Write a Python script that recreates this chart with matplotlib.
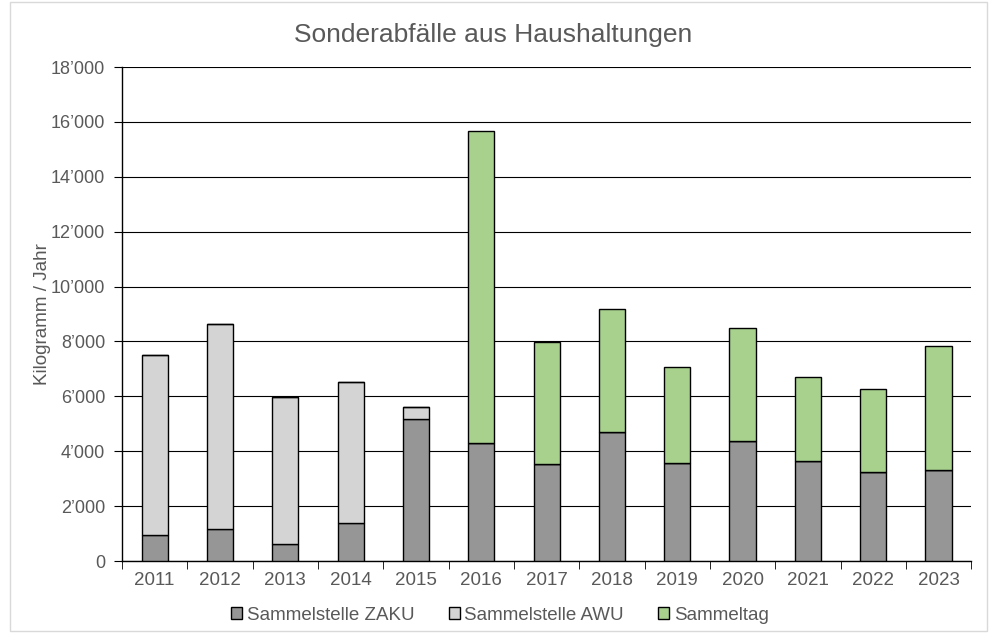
import numpy as np
import matplotlib.pyplot as plt
from matplotlib.ticker import FuncFormatter, MultipleLocator, FixedLocator
from matplotlib.patches import Rectangle

plt.rcParams['font.family'] = ['Liberation Sans', 'DejaVu Sans']

# Data (kg per year)
years = ['2011', '2012', '2013', '2014', '2015', '2016', '2017',
         '2018', '2019', '2020', '2021', '2022', '2023']
zaku = [950, 1170, 620, 1380, 5170, 4300, 3540, 4700, 3570, 4370, 3640, 3240, 3320]
awu = [6550, 7460, 5360, 5140, 440, 0, 0, 0, 0, 0, 0, 0, 0]
sammeltag = [0, 0, 0, 0, 0, 11370, 4440, 4480, 3500, 4120, 3060, 3030, 4510]

text_col = '#595959'
x = np.arange(len(years))
zaku = np.array(zaku)
awu = np.array(awu)
sammeltag = np.array(sammeltag)

fig = plt.figure(figsize=(9.92, 6.33), dpi=100)
ax = fig.add_axes([0.123, 0.1137, 0.856, 0.7804])

w = 0.4
ax.bar(x, zaku, w, color='#969696', edgecolor='black', linewidth=1.0,
       label='Sammelstelle ZAKU', zorder=3)
ax.bar(x, awu, w, bottom=zaku, color='#d4d4d4', edgecolor='black', linewidth=1.0,
       label='Sammelstelle AWU', zorder=3)
ax.bar(x, sammeltag, w, bottom=zaku + awu, color='#a9d18e', edgecolor='black',
       linewidth=1.0, label='Sammeltag', zorder=3)

ax.set_xlim(-0.5, len(years) - 0.5)
ax.set_ylim(0, 18000)
ax.yaxis.set_major_locator(MultipleLocator(2000))
ax.yaxis.set_major_formatter(FuncFormatter(
    lambda v, p: '0' if v == 0 else f'{int(v):,}'.replace(',', '\u2019')))
ax.grid(axis='y', color='black', linewidth=0.8, zorder=0)

ax.set_xticks(x)
ax.set_xticklabels(years)
ax.xaxis.set_minor_locator(FixedLocator(np.arange(-0.5, len(years), 1)))
ax.tick_params(axis='x', which='major', length=0, pad=8, labelsize=13.5, colors=text_col)
ax.tick_params(axis='x', which='minor', length=6, direction='out', color='black')
ax.tick_params(axis='y', length=6, direction='out', color='black',
               labelsize=13, labelcolor=text_col, pad=6)

for s in ['top', 'right']:
    ax.spines[s].set_visible(False)
ax.spines['left'].set_linewidth(1.0)
ax.spines['bottom'].set_linewidth(1.0)

ax.set_ylabel('Kilogramm / Jahr', fontsize=13.5, color=text_col, labelpad=0)
fig.text(0.497, 0.945, 'Sonderabfälle aus Haushaltungen', ha='center', va='center',
         fontsize=19, color=text_col)

leg = fig.legend(loc='center', bbox_to_anchor=(0.504, 0.028), ncol=3, frameon=False,
                 fontsize=13.5, handlelength=0.6, handleheight=0.6, handletextpad=0.25,
                 columnspacing=1.8)
for t in leg.get_texts():
    t.set_color(text_col)

fig.patches.append(Rectangle((0.01, 0.003), 0.985, 0.994, transform=fig.transFigure,
                             fill=False, edgecolor='#d9d9d9', linewidth=1.0))

fig.savefig('out.png', dpi=100)
